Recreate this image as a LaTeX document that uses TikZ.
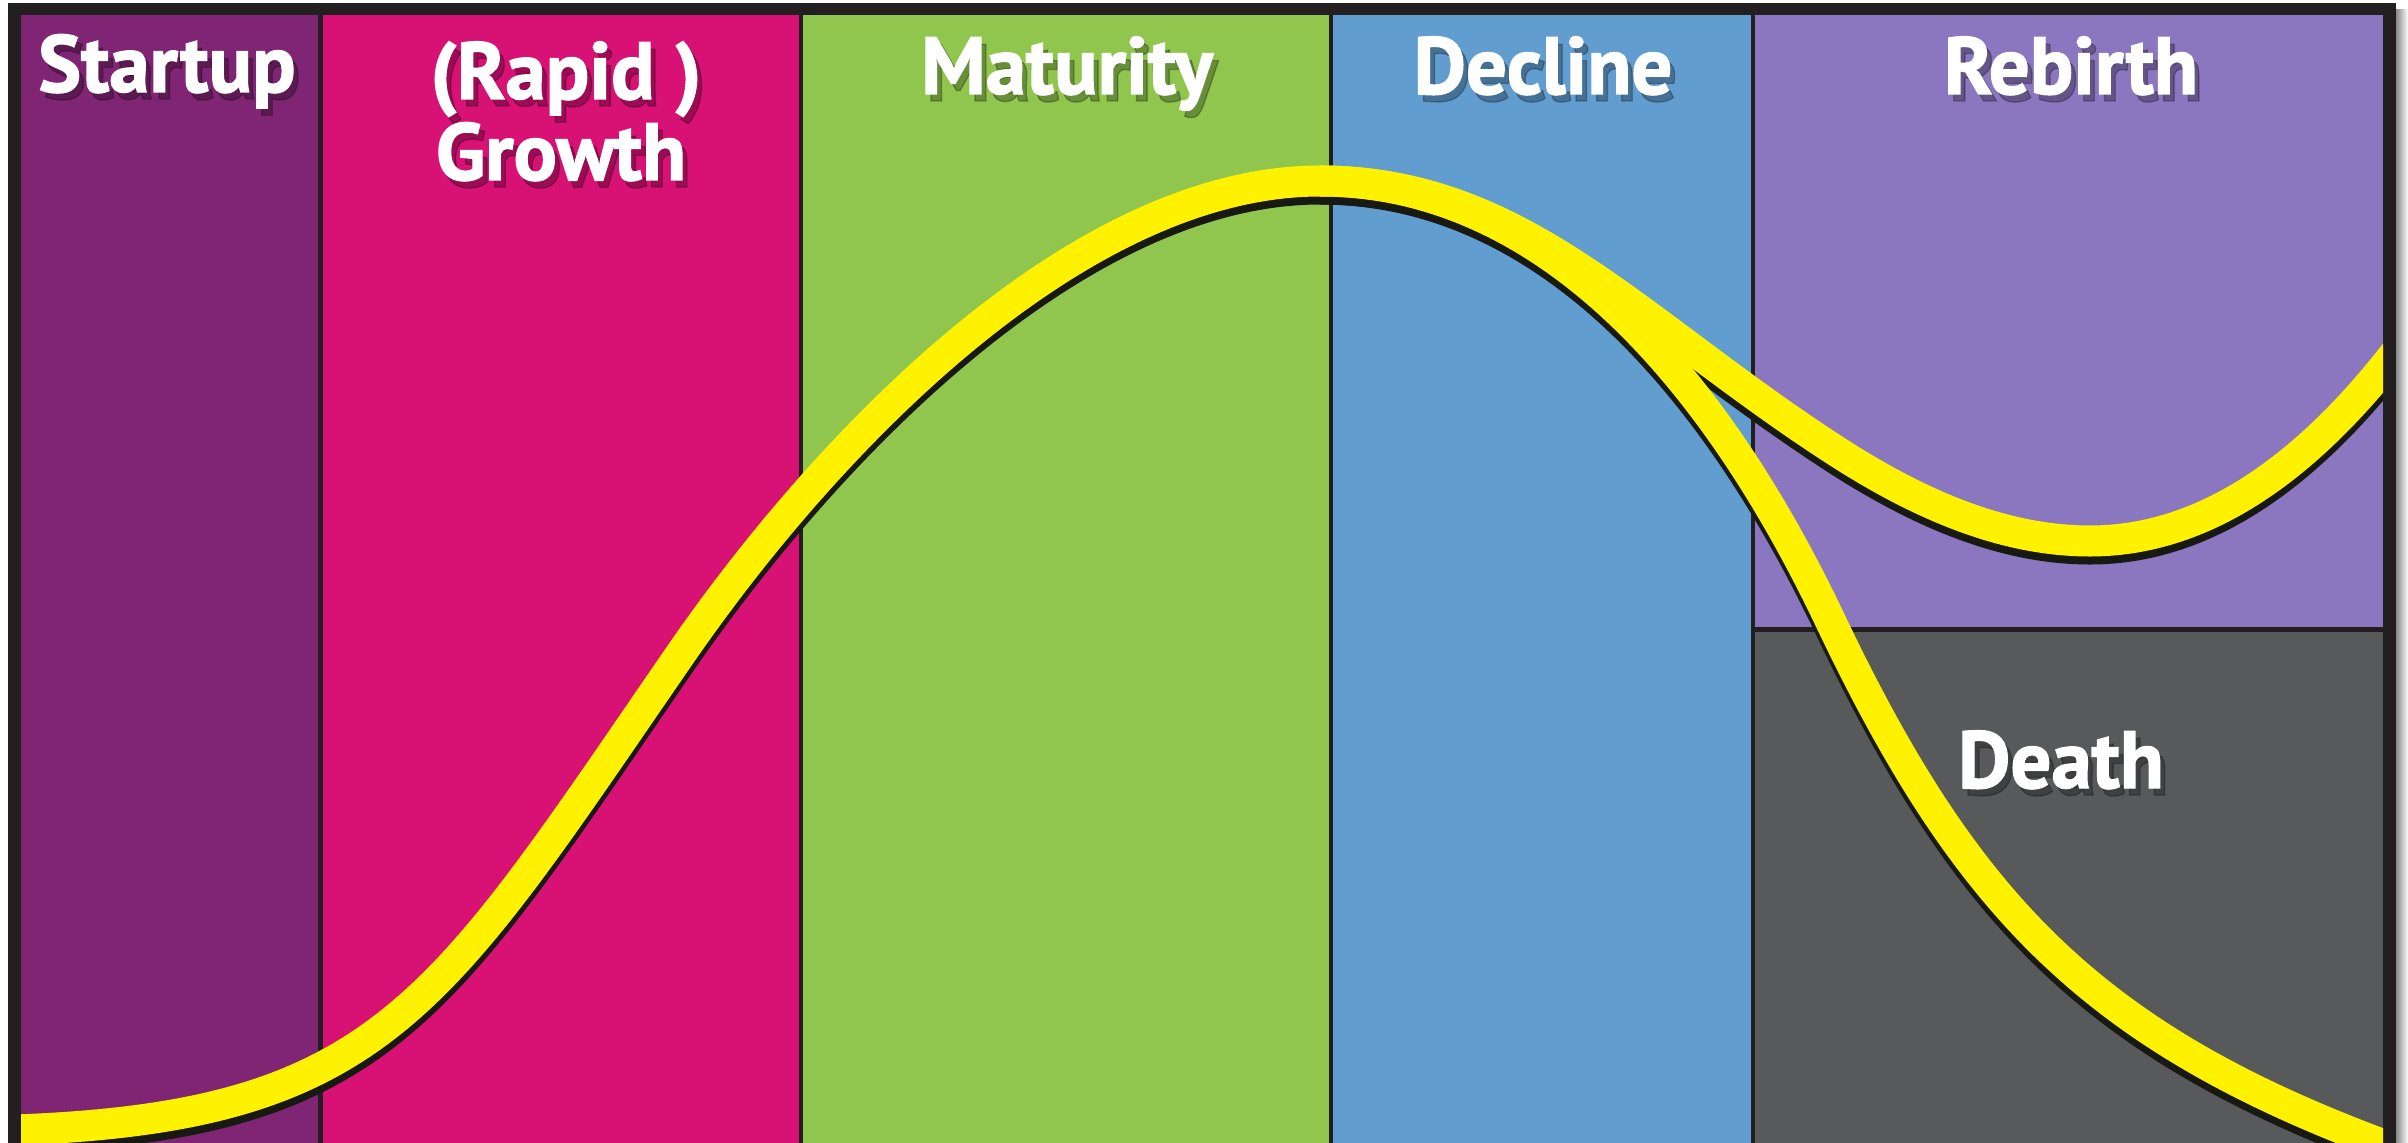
\documentclass[tikz,border=0pt]{standalone}
\usepackage{fontspec}
\setmainfont{PT Sans}[BoldFeatures={FakeBold=1.6}]
\definecolor{cStart}{RGB}{128,37,116}
\definecolor{cGrowth}{RGB}{216,17,117}
\definecolor{cMature}{RGB}{144,198,78}
\definecolor{cDecline}{RGB}{98,157,208}
\definecolor{cRebirth}{RGB}{139,119,191}
\definecolor{cDeath}{RGB}{88,89,91}
\definecolor{cFrame}{RGB}{35,31,32}
\definecolor{cYellow}{RGB}{255,242,0}
\definecolor{cShadow}{RGB}{25,25,20}
\begin{document}
\begin{tikzpicture}[x=0.01cm,y=-0.01cm,
  lbl/.style={text=white, font=\bfseries\fontsize{23}{27}\selectfont, inner sep=0pt, anchor=base},
  lblshadow/.style={lbl, text=black, opacity=0.28},
  band/.style={line width=0.31cm, draw=cYellow},
  bandshadow/.style={line width=0.31cm, draw=cShadow, yshift=-0.08cm},
  panel/.style={draw=none}
]
\useasboundingbox (0,0) rectangle (2408,1143);
\fill[white] (0,0) rectangle (2408,1143);
\shade[left color=black!55, right color=white, draw=none] (2394,10) rectangle (2408,1143);
\fill[cFrame] (8,3) rectangle (2396,1143);
% panels
\fill[panel, cStart]   (21,15)   rectangle (318,1143);
\fill[panel, cGrowth]  (322.5,15) rectangle (798.5,1143);
\fill[panel, cMature]  (803,15)  rectangle (1329,1143);
\fill[panel, cDecline] (1333,15) rectangle (1751,1143);
\fill[panel, cRebirth] (1755,15) rectangle (2383,627);
\fill[panel, cDeath]   (1755,632) rectangle (2383,1143);
% curves
\begin{scope}
\clip (21,15) rectangle (2383,1143);
% shadows
\draw[bandshadow] (-20,1131) .. controls (380,1123) and (430,1017.5) .. (680,655)
  .. controls (830,437.5) and (1080,181) .. (1320,181)
  .. controls (1540,181) and (1710,368) .. (1830,620)
  .. controls (1970,914) and (2100,1046) .. (2420,1158);
\draw[bandshadow] (1320,181) .. controls (1520,181) and (1633,319) .. (1833,449)
  .. controls (1919,505) and (2004,541) .. (2090,541)
  .. controls (2200,541) and (2310,474) .. (2420,320);
% yellow bands
\draw[band] (-20,1131) .. controls (380,1123) and (430,1017.5) .. (680,655)
  .. controls (830,437.5) and (1080,181) .. (1320,181)
  .. controls (1540,181) and (1710,368) .. (1830,620)
  .. controls (1970,914) and (2100,1046) .. (2420,1158);
\draw[band] (1320,181) .. controls (1520,181) and (1633,319) .. (1833,449)
  .. controls (1919,505) and (2004,541) .. (2090,541)
  .. controls (2200,541) and (2310,474) .. (2420,320);
\end{scope}
% label shadows
\node[lblshadow] (sStartup) at (172,99) {Startup};
\node[lblshadow] (sRapid) at (571,106) {(Rapid )};
\node[lblshadow] (sGrowth) at (566,187) {Growth};
\node[lblshadow] (sMaturity) at (1072,101) {Maturity};
\node[lblshadow] (sDecline) at (1548,101) {Decline};
\node[lblshadow] (sRebirth) at (2076,101) {Rebirth};
\node[lblshadow] (sDeath) at (2066,795) {Death};
% labels
\node[lbl] (tStartup) at (167,92) {Startup};
\node[lbl] (tRapid) at (566,99) {(Rapid )};
\node[lbl] (tGrowth) at (561,180) {Growth};
\node[lbl] (tMaturity) at (1067,94) {Maturity};
\node[lbl] (tDecline) at (1543,94) {Decline};
\node[lbl] (tRebirth) at (2071,94) {Rebirth};
\node[lbl] (tDeath) at (2061,788) {Death};
\end{tikzpicture}
\end{document}
